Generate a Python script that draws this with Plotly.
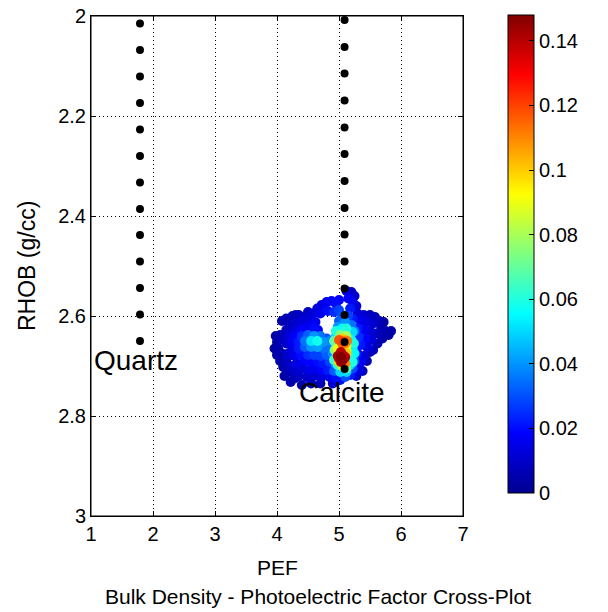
import pandas as pd
import plotly.graph_objects as go

# mineral reference lines (black dots)
QUARTZ_PEF = [1.79] * 13
QUARTZ_RHOB = [2.015, 2.068, 2.121, 2.174, 2.227, 2.280, 2.333, 2.386, 2.438, 2.491, 2.544, 2.597, 2.650]
CALCITE_PEF = [5.09] * 14
CALCITE_RHOB = [2.008, 2.062, 2.115, 2.169, 2.223, 2.276, 2.330, 2.384, 2.437, 2.491, 2.545, 2.598, 2.652, 2.706]

# log samples, grouped roughly by region of the cloud
PEF = [
    5.12, 5.20, 5.25, 5.15, 5.22, 5.28, 5.18,
    4.65, 4.72, 4.80, 4.88, 4.95, 5.00, 4.70, 4.82, 4.92, 5.00, 4.58,
    4.08, 4.15, 4.25, 4.35, 4.45, 4.55, 4.62, 4.20, 4.30, 4.40, 4.50, 4.60, 4.66, 4.15, 4.28, 4.40,
    3.98, 4.00, 4.05, 4.10, 4.02,
    4.20, 4.30, 4.40, 4.50, 4.60, 4.70, 4.80, 4.15, 4.25, 4.35, 4.45, 4.55, 4.65, 4.75, 4.85,
    4.25, 4.35, 4.45, 4.55, 4.65, 4.75, 4.85,
    4.08, 4.18, 4.05, 4.15, 4.28, 4.38, 4.10, 4.22, 4.32, 4.45, 4.18, 4.30,
    4.50, 4.60, 4.70, 4.80, 4.90, 4.55, 4.65, 4.75, 4.85, 4.95, 4.42, 4.52, 4.62, 4.72, 4.82, 4.92,
    4.35, 4.48, 4.60, 4.72, 4.85, 4.95, 4.28,
    5.30, 5.40, 5.50, 5.58, 5.65, 5.35, 5.45, 5.55, 5.68, 5.75, 5.80, 5.30, 5.40, 5.50, 5.60, 5.70,
    5.32, 5.42, 5.52, 5.62, 5.35, 5.45, 5.55,
    5.30, 5.40, 5.25, 5.35, 5.22, 5.32, 5.18, 5.28, 5.10,
    5.05, 5.15, 5.22, 5.00, 5.10, 5.20, 5.25, 4.98,
    5.18, 5.20, 5.22, 5.18, 5.18, 4.95, 4.96, 4.97, 4.98, 5.02, 5.12, 5.05, 5.12,
    5.02, 5.12, 5.04, 5.10, 5.07, 5.12, 5.02, 5.07, 5.00, 5.12, 5.03, 5.08, 5.03, 5.00, 5.10, 5.05, 5.12,
    5.00, 5.06, 5.05, 5.05, 5.10,
    4.00, 3.96, 4.12, 4.22, 4.40, 4.55, 4.70, 4.90, 5.02, 5.38, 5.45, 5.50, 5.84, 5.72, 4.30, 4.50,
    4.92, 4.93, 4.92, 5.24, 5.25, 5.22, 4.95, 5.22,
    4.98, 5.10, 5.03, 5.03, 5.00, 5.13, 4.98, 5.12,
]
RHOB = [
    2.550, 2.552, 2.560, 2.565, 2.572, 2.580, 2.585,
    2.585, 2.578, 2.572, 2.570, 2.575, 2.568, 2.595, 2.590, 2.592, 2.588, 2.595,
    2.610, 2.605, 2.600, 2.598, 2.602, 2.608, 2.612, 2.618, 2.615, 2.612, 2.620, 2.625, 2.628, 2.628, 2.628, 2.628,
    2.640, 2.652, 2.638, 2.648, 2.665,
    2.640, 2.640, 2.640, 2.638, 2.640, 2.640, 2.645, 2.655, 2.652, 2.652, 2.650, 2.650, 2.650, 2.652, 2.650,
    2.665, 2.665, 2.662, 2.662, 2.662, 2.665, 2.662,
    2.675, 2.675, 2.690, 2.688, 2.680, 2.678, 2.702, 2.700, 2.695, 2.690, 2.712, 2.710,
    2.678, 2.678, 2.680, 2.678, 2.675, 2.692, 2.692, 2.695, 2.692, 2.695, 2.705, 2.708, 2.705, 2.708, 2.708, 2.710,
    2.720, 2.722, 2.720, 2.722, 2.722, 2.725, 2.725,
    2.595, 2.598, 2.598, 2.602, 2.610, 2.610, 2.612, 2.615, 2.622, 2.630, 2.638, 2.625, 2.628, 2.630, 2.635, 2.645,
    2.642, 2.645, 2.648, 2.655, 2.658, 2.662, 2.668,
    2.675, 2.680, 2.690, 2.692, 2.705, 2.708, 2.718, 2.720, 2.722,
    2.598, 2.600, 2.605, 2.610, 2.612, 2.618, 2.630, 2.622,
    2.632, 2.648, 2.665, 2.680, 2.698, 2.640, 2.658, 2.678, 2.698, 2.712, 2.712, 2.625, 2.625,
    2.638, 2.640, 2.645, 2.648, 2.651, 2.660, 2.662, 2.665, 2.675, 2.675, 2.680, 2.685, 2.682, 2.692, 2.695, 2.700, 2.705,
    2.685, 2.678, 2.690, 2.655, 2.655,
    2.678, 2.665, 2.720, 2.732, 2.738, 2.735, 2.735, 2.735, 2.728, 2.710, 2.690, 2.672, 2.630, 2.612, 2.598, 2.592,
    2.650, 2.668, 2.688, 2.655, 2.675, 2.692, 2.630, 2.632,
    2.680, 2.682, 2.672, 2.692, 2.648, 2.650, 2.665, 2.668,
]
DENSITY = [
    0.012, 0.010, 0.010, 0.018, 0.015, 0.012, 0.022,
    0.012, 0.014, 0.016, 0.018, 0.020, 0.018, 0.015, 0.020, 0.025, 0.028, 0.012,
    0.005, 0.006, 0.007, 0.008, 0.010, 0.012, 0.016, 0.008, 0.010, 0.012, 0.016, 0.020, 0.018, 0.008, 0.012, 0.018,
    0.004, 0.004, 0.006, 0.008, 0.005,
    0.012, 0.018, 0.025, 0.032, 0.040, 0.035, 0.030, 0.010, 0.016, 0.022, 0.035, 0.052, 0.058, 0.040, 0.038,
    0.014, 0.022, 0.032, 0.040, 0.042, 0.035, 0.035,
    0.006, 0.010, 0.005, 0.008, 0.015, 0.020, 0.005, 0.010, 0.014, 0.018, 0.006, 0.010,
    0.025, 0.028, 0.028, 0.032, 0.040, 0.018, 0.020, 0.022, 0.028, 0.040, 0.012, 0.014, 0.016, 0.018, 0.022, 0.032,
    0.008, 0.010, 0.010, 0.012, 0.016, 0.020, 0.006,
    0.012, 0.010, 0.008, 0.007, 0.006, 0.015, 0.012, 0.010, 0.006, 0.005, 0.004, 0.022, 0.016, 0.012, 0.008, 0.005,
    0.025, 0.018, 0.012, 0.006, 0.022, 0.014, 0.008,
    0.020, 0.012, 0.030, 0.016, 0.030, 0.014, 0.022, 0.010, 0.030,
    0.030, 0.028, 0.022, 0.032, 0.040, 0.035, 0.035, 0.040,
    0.050, 0.055, 0.050, 0.058, 0.050, 0.050, 0.060, 0.065, 0.060, 0.050, 0.050, 0.055, 0.060,
    0.075, 0.080, 0.100, 0.105, 0.120, 0.085, 0.080, 0.090, 0.095, 0.100, 0.130, 0.135, 0.148, 0.100, 0.110, 0.085, 0.070,
    0.140, 0.140, 0.145, 0.115, 0.110,
    0.004, 0.003, 0.004, 0.005, 0.005, 0.006, 0.006, 0.010, 0.020, 0.008, 0.006, 0.006, 0.004, 0.004, 0.006, 0.008,
    0.070, 0.075, 0.065, 0.060, 0.055, 0.060, 0.060, 0.050,
    0.142, 0.140, 0.140, 0.142, 0.118, 0.112, 0.090, 0.090,
]

X_TICKS = [1, 2, 3, 4, 5, 6, 7]
Y_TICKS = [2, 2.2, 2.4, 2.6, 2.8, 3]
CB_TICKS = [0, 0.02, 0.04, 0.06, 0.08, 0.1, 0.12, 0.14]

JET = [
    [0.0, "#00008F"],
    [0.125, "#0000FF"],
    [0.375, "#00FFFF"],
    [0.625, "#FFFF00"],
    [0.875, "#FF0000"],
    [1.0, "#800000"],
]

FONT = "Liberation Sans, Arial, Helvetica, sans-serif"

df = pd.DataFrame({"pef": PEF, "rhob": RHOB, "density": DENSITY})
df = df.sort_values(by="density")  # densest points on top

fig = go.Figure()
fig.add_trace(
    go.Scatter(
        x=df["pef"],
        y=df["rhob"],
        mode="markers",
        marker=dict(
            size=10,
            color=df["density"],
            colorscale=JET,
            cmin=0,
            cmax=0.148,
            line=dict(width=0),
            colorbar=dict(
                x=1.121,
                xanchor="left",
                xpad=0,
                y=1.002,
                yanchor="top",
                ypad=0,
                len=0.956,
                thickness=26,
                outlinecolor="black",
                outlinewidth=1,
                ticks="inside",
                ticklen=5,
                tickcolor="black",
                tickvals=CB_TICKS,
                tickfont=dict(size=20, color="black"),
            ),
        ),
        showlegend=False,
    )
)
for xs, ys in [(QUARTZ_PEF, QUARTZ_RHOB), (CALCITE_PEF, CALCITE_RHOB)]:
    fig.add_trace(
        go.Scatter(x=xs, y=ys, mode="markers", marker=dict(size=8, color="black"), showlegend=False)
    )

params_axes = dict(
    showgrid=True,
    gridcolor="black",
    griddash="1px,3px",
    gridwidth=1,
    zeroline=False,
    showline=True,
    linecolor="black",
    linewidth=1,
    mirror="ticks",
    ticks="inside",
    ticklen=5,
    tickcolor="black",
    tickfont=dict(size=20, color="black"),
    ticklabeloverflow="allow",
    automargin=False,
)
fig.update_xaxes(**params_axes, range=[1, 7], tickvals=X_TICKS)
fig.update_yaxes(**params_axes, range=[3, 2], tickvals=Y_TICKS)

# plot box
fig.add_shape(type="rect", xref="paper", yref="paper", x0=0, x1=1, y0=0, y1=1,
              line=dict(color="black", width=1), layer="above")

# axis titles and caption as annotations, placed in pixels from the plot edges
fig.add_annotation(x=0, y=0.5, xref="paper", yref="paper", xshift=-64, xanchor="center",
                   textangle=-90, text="RHOB (g/cc)", showarrow=False, font=dict(size=23))
fig.add_annotation(x=0.5, y=0, xref="paper", yref="paper", yshift=-51, yanchor="middle",
                   text="PEF", showarrow=False, font=dict(size=21))
fig.add_annotation(x=0.610, y=0, xref="paper", yref="paper", yshift=-80, yanchor="middle",
                   text="Bulk Density - Photoelectric Factor Cross-Plot", showarrow=False,
                   font=dict(size=21))

fig.add_annotation(x=1.02, y=2.688, text="Quartz", showarrow=False, xanchor="left",
                   yanchor="middle", font=dict(size=28, color="black"))
fig.add_annotation(x=4.33, y=2.752, text="Calcite", showarrow=False, xanchor="left",
                   yanchor="middle", font=dict(size=28, color="black"))

fig.update_layout(
    width=608,
    height=612,
    plot_bgcolor="white",
    paper_bgcolor="white",
    margin=dict(l=91, r=145, t=16, b=96, autoexpand=False),
    font=dict(family=FONT, size=20, color="black"),
)

# drop the default 8px page margin so the figure fills the window
fig.write_html(
    "out.html",
    config={"displayModeBar": False},
    post_script="document.body.style.margin = '0';",
)
